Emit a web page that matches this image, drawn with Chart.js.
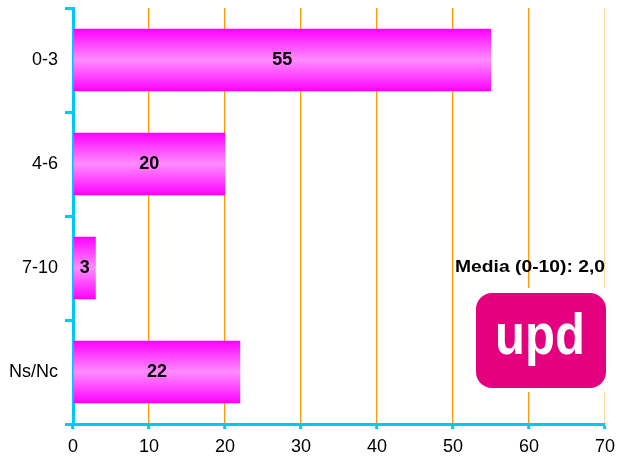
<!DOCTYPE html>
<html>
<head>
<meta charset="utf-8">
<script src="https://cdn.jsdelivr.net/npm/chart.js@4/dist/chart.umd.min.js"></script>
<style>
  html, body { margin: 0; padding: 0; background: #fff; }
  #wrap { width: 619px; height: 459px; position: relative; }
</style>
</head>
<body>
<div id="wrap"><canvas id="grafico"></canvas></div>
<script>
const categorias = ['0-3', '4-6', '7-10', 'Ns/Nc'];
const valores = [55, 20, 3, 22];
const textoMedia = 'Media (0-10): 2,0';
const anchoBarra = 0.6;

const cian = '#00c8ff';
const naranja = '#ff9900';
const fuente = '"Liberation Sans", Arial, sans-serif';

// degradado vertical de cada barra (magenta en bordes, rosa claro al centro)
function colorBarra(ctx) {
    const chart = ctx.chart;
    const y = chart.scales.y;
    if (!y || ctx.dataIndex === undefined) return '#ff44ff';
    const centro = y.getPixelForValue(ctx.dataIndex);
    const mitad = (y.height / categorias.length) * anchoBarra / 2;
    if (!isFinite(centro) || !isFinite(mitad) || mitad <= 0) return '#ff44ff';
    const g = chart.ctx.createLinearGradient(0, centro - mitad, 0, centro + mitad);
    g.addColorStop(0, '#ff00ff');
    g.addColorStop(0.5, '#ff8cff');
    g.addColorStop(1, '#ff00ff');
    return g;
}

const pluginExtras = {
    id: 'extras',
    afterDatasetsDraw(chart) {
        const ctx = chart.ctx;
        const meta = chart.getDatasetMeta(0);
        ctx.save();
        // etiquetas de valor
        ctx.font = 'bold 18px ' + fuente;
        ctx.fillStyle = '#000';
        ctx.textAlign = 'center';
        ctx.textBaseline = 'middle';
        meta.data.forEach((bar, i) => {
            const x = (bar.x + bar.base) / 2;
            ctx.fillText(String(valores[i]), x, bar.y);
        });

        // texto de la media
        ctx.save();
        ctx.font = 'bold 17px ' + fuente;
        ctx.textAlign = 'left';
        const w = ctx.measureText(textoMedia).width;
        ctx.translate(455, 267);
        ctx.scale(150 / w, 1);
        ctx.fillText(textoMedia, 0, 0);
        ctx.restore();

        // logo upd
        ctx.fillStyle = '#fff';
        ctx.fillRect(472, 288, 137, 104);
        ctx.fillStyle = '#e4007f';
        ctx.beginPath();
        ctx.roundRect(476, 293, 130, 95, 16);
        ctx.fill();
        ctx.save();
        ctx.fillStyle = '#fff';
        ctx.font = 'bold 57px ' + fuente;
        ctx.textAlign = 'center';
        ctx.textBaseline = 'alphabetic';
        ctx.translate(540, 354);
        ctx.scale(0.86, 1);
        ctx.fillText('upd', 0, 0);
        ctx.restore();
        ctx.restore();
    }
};

new Chart(document.getElementById('grafico'), {
    type: 'bar',
    data: {
        labels: categorias,
        datasets: [{
            data: valores,
            backgroundColor: colorBarra,
            borderWidth: 0,
            barPercentage: anchoBarra,
            categoryPercentage: 1
        }]
    },
    options: {
        indexAxis: 'y',
        responsive: true,
        maintainAspectRatio: false,
        animation: false,
        layout: { padding: { top: 8, right: 14, left: 0, bottom: 0 } },
        plugins: { legend: { display: false }, tooltip: { enabled: false } },
        scales: {
            x: {
                min: 0,
                max: 70,
                ticks: { stepSize: 10, color: '#000', padding: 7, font: { size: 18, family: fuente } },
                grid: {
                    color: c => c.tick && c.tick.value === 0 ? 'rgba(0,0,0,0)' : (c.tick && c.tick.value === 70 ? '#ffd9a0' : naranja),
                    lineWidth: 1.3,
                    tickColor: cian,
                    tickLength: 5,
                    tickWidth: 3
                },
                border: { color: cian, width: 3 },
                afterFit: s => { s.height = 35; s.paddingLeft = 0; s.paddingRight = 0; }
            },
            y: {
                ticks: { color: '#000', padding: 7, font: { size: 18, family: fuente } },
                grid: {
                    offset: true,
                    drawOnChartArea: false,
                    tickColor: cian,
                    tickLength: 8,
                    tickWidth: 3
                },
                border: { color: cian, width: 3 },
                afterFit: s => { s.width = 73; s.paddingTop = 0; s.paddingBottom = 0; }
            }
        }
    },
    plugins: [pluginExtras]
});
</script>
</body>
</html>
